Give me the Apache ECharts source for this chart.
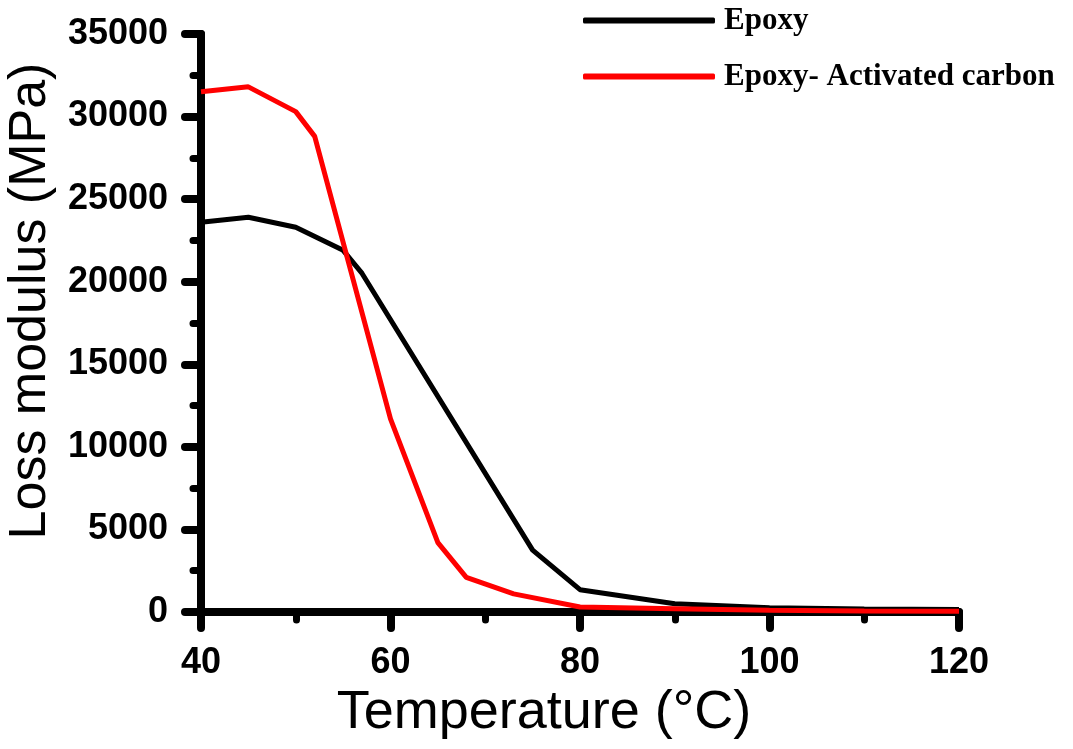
<!DOCTYPE html>
<html>
<head>
<meta charset="utf-8">
<script src="https://cdn.jsdelivr.net/npm/echarts@6/dist/echarts.min.js"></script>
<style>
  html, body { margin: 0; padding: 0; background: #fff; }
  #chart { width: 1073px; height: 749px; }
</style>
</head>
<body>
<div id="chart"></div>
<script>
// values
const epoxyTemp = [40, 45, 50, 55, 57, 75, 80, 90, 100, 110, 120];
const epoxyLoss = [23600, 23900, 23300, 21900, 20500, 3750, 1350, 500, 250, 180, 150];

const carbonTemp = [40, 45, 50, 52, 60, 65, 68, 73, 80, 90, 100, 110, 120];
const carbonLoss = [31500, 31800, 30300, 28800, 11700, 4200, 2100, 1100, 300, 200, 100, 60, 50];

const seriesNames = ["Epoxy", "Epoxy- Activated carbon"];
const seriesColors = ["#000000", "#ff0000"];

function pairs(xs, ys) {
  return xs.map((x, i) => [x, ys[i]]);
}

const chart = echarts.init(document.getElementById("chart"));

const axisCommon = {
  axisLine: { lineStyle: { color: "#000", width: 8, cap: "round" } },
  axisTick: { length: 16, lineStyle: { color: "#000", width: 8, cap: "round" } },
  minorTick: { show: true, splitNumber: 2, length: 8, lineStyle: { color: "#000", width: 7, cap: "round" } },
  splitLine: { show: false },
  minorSplitLine: { show: false },
  axisLabel: {
    color: "#000",
    fontFamily: "Liberation Sans",
    fontWeight: "bold",
    fontSize: 36,
    margin: 33,
    formatter: (v) => String(v)
  }
};

chart.setOption({
  animation: false,
  color: seriesColors,
  grid: { left: 201, right: 114, top: 34, bottom: 137, outerBoundsMode: "none", containLabel: false },
  legend: {
    data: seriesNames.map((n) => ({ name: n, icon: "roundRect" })),
    orient: "vertical",
    left: 578,
    top: 0,
    itemWidth: 132,
    itemHeight: 6,
    itemGap: 25,
    textStyle: {
      color: "#000",
      fontFamily: "Liberation Serif",
      fontWeight: "bold",
      fontSize: 31,
      lineHeight: 28,
      padding: [0, 0, 0, 4]
    }
  },
  xAxis: {
    type: "value",
    min: 40,
    max: 120,
    interval: 20,
    ...axisCommon,
    name: "Temperature (°C)",
    nameLocation: "middle",
    nameGap: 72,
    nameTextStyle: {
      color: "#000",
      fontFamily: "Liberation Sans",
      fontSize: 54,
      padding: [0, 72, 0, 0]
    }
  },
  yAxis: {
    type: "value",
    min: 0,
    max: 35000,
    interval: 5000,
    ...axisCommon,
    name: "Loss modulus (MPa)",
    nameLocation: "middle",
    nameGap: 142,
    nameTextStyle: {
      color: "#000",
      fontFamily: "Liberation Sans",
      fontSize: 52,
      padding: [0, 0, 0, 44]
    }
  },
  series: [
    {
      name: seriesNames[0],
      type: "line",
      symbol: "none",
      lineStyle: { width: 5, color: seriesColors[0] },
      data: pairs(epoxyTemp, epoxyLoss)
    },
    {
      name: seriesNames[1],
      type: "line",
      symbol: "none",
      lineStyle: { width: 5, color: seriesColors[1] },
      data: pairs(carbonTemp, carbonLoss)
    }
  ]
});
</script>
</body>
</html>
